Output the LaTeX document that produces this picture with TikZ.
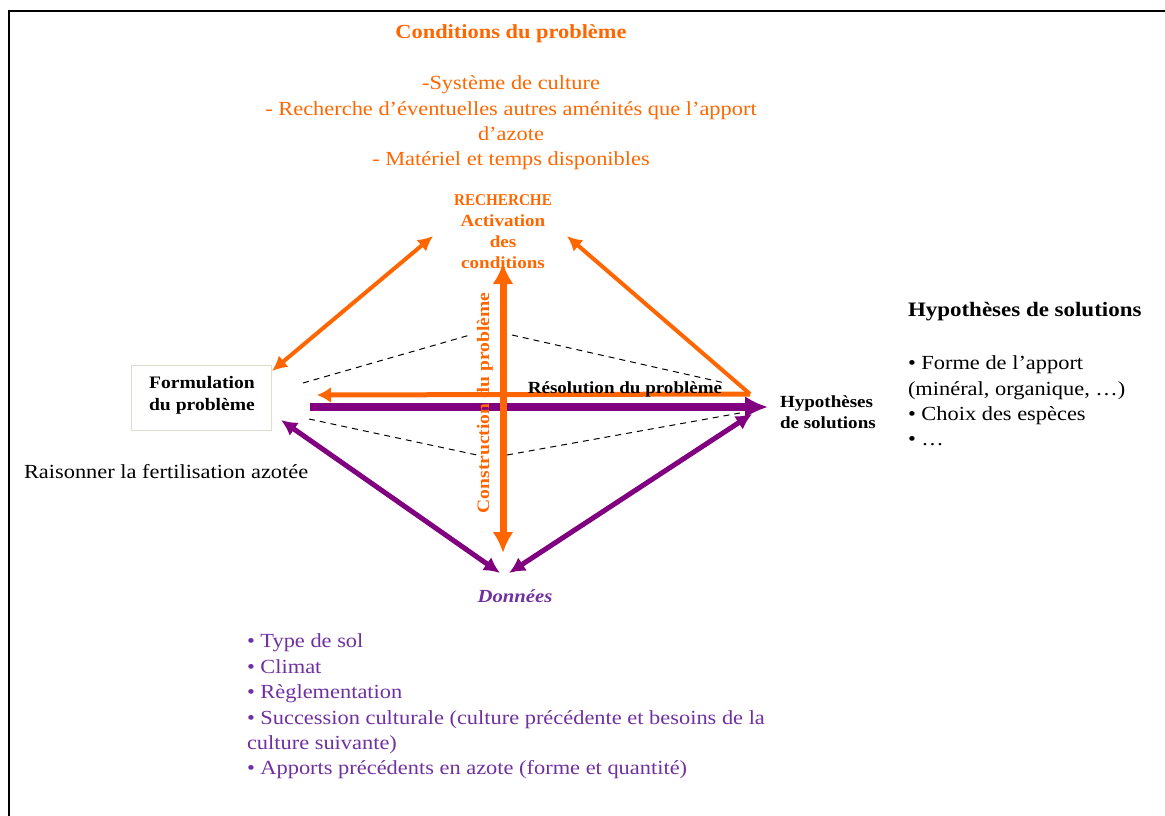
\documentclass[tikz,border=0pt]{standalone}
\usepackage{fontspec}
\setmainfont[FakeStretch=1.12]{Liberation Serif}
\newfontfamily\narrowserif[FakeStretch=0.92]{Liberation Serif}
\usetikzlibrary{arrows.meta}
\definecolor{orng}{RGB}{255,102,0}
\definecolor{purp}{RGB}{128,0,128}
\definecolor{purptxt}{RGB}{112,48,160}
\definecolor{boxline}{RGB}{225,220,205}
\tikzset{
  txt/.style={inner sep=0pt, outer sep=0pt},
  olink/.style={draw=orng, line width=4pt},
  plink/.style={draw=purp, line width=5pt},
  dashln/.style={draw=black, line width=1pt, dash pattern=on 6pt off 5pt},
}
\begin{document}
\begin{tikzpicture}[x=1pt,y=-1pt]
\useasboundingbox (0,0) rectangle (1165,816);
% frame
\draw[line width=2pt] (9,816) -- (9,11) -- (1165,11);

% texts
\node[txt, text=orng, font=\fontsize{20}{25}\selectfont\bfseries] (condtitle) at (511,34) {Conditions du problème};
\node[txt, text=orng, font=\fontsize{20}{25.3}\selectfont, align=center] (condlist) at (511,123)
  {-Système de culture\\- Recherche d’éventuelles autres aménités que l’apport\\d’azote\\- Matériel et temps disponibles};
\node[txt, text=orng, font=\fontsize{17}{21}\selectfont\bfseries, align=center] (rech) at (503,232)
  {{\narrowserif\bfseries\fontsize{16.5}{21}\selectfont RECHERCHE}\\Activation\\des\\conditions};

\node[draw=boxline, line width=1pt, minimum width=140pt, minimum height=65pt, inner sep=0pt] (formbox) at (201,397.5) {};
\node[txt, font=\fontsize{17.5}{22}\selectfont\bfseries, align=center] (form) at (202,395) {Formulation\\du problème};
\node[txt, anchor=west, font=\fontsize{20}{24}\selectfont] (rais) at (24,472) {Raisonner la fertilisation azotée};

\node[txt, anchor=west, font=\fontsize{17}{21}\selectfont\bfseries, align=left] (hyp) at (780,412.5) {Hypothèses\\de solutions};
\node[txt, anchor=west, font=\fontsize{20.5}{24}\selectfont\bfseries] (hyptitle) at (908,312) {Hypothèses de solutions};
\node[txt, anchor=west, font=\fontsize{20}{25.3}\selectfont, align=left] (hyplist) at (908,401)
  {• Forme de l’apport\\(minéral, organique, …)\\• Choix des espèces\\• …};

\node[txt, text=purptxt, font=\fontsize{18.5}{20}\selectfont\bfseries\itshape] (donnees) at (515,596) {Données};
\node[txt, anchor=west, text=purptxt, font=\fontsize{20}{25.4}\selectfont, align=left] (donlist) at (247,706.5)
  {• Type de sol\\• Climat\\• Règlementation\\• Succession culturale (culture précédente et besoins de la\\culture suivante)\\• Apports précédents en azote (forme et quantité)};

% anchor coordinates
\coordinate (rechL) at (433,236);
\coordinate (rechR) at (567,236);
\coordinate (rechB) at (503,263);
\coordinate (formTR) at (272,371);
\coordinate (formBR) at (281,420);
\coordinate (formO) at (317,395);
\coordinate (formP) at (310,407);
\coordinate (hypC) at (750,394);
\coordinate (hypP) at (768,407);
\coordinate (hypBL) at (752,414);
\coordinate (donT) at (503,553);
\coordinate (donL) at (500,573);
\coordinate (donR) at (509,573);

% dashed diamond
\draw[dashln] (303,383) -- (470,335);
\draw[dashln] (512,335) -- (725,383);
\draw[dashln] (309,419) -- (477,455);
\draw[dashln] (507,455) -- (740,413);

% orange links
\draw[olink, {Latex[length=15pt,width=15pt]}-{Latex[length=15pt,width=15pt]}] (formTR) -- (rechL);
\draw[olink, -{Latex[length=15pt,width=15pt]}] (hypC) -- (rechR);
\draw[draw=orng, line width=5pt, -{Latex[length=14pt,width=16pt]}] (hypC) -- (formO);
% purple horizontal
\draw[draw=purp, line width=8pt, -{Latex[length=23pt,width=22pt]}] (formP) -- (hypP);
% orange vertical
\draw[draw=orng, line width=7pt, {Latex[length=21pt,width=21pt]}-{Latex[length=21pt,width=21pt]}] (donT) -- (rechB);
% purple diagonals
\draw[plink, {Latex[length=16pt,width=16pt]}-{Latex[length=16pt,width=16pt]}] (formBR) -- (donL);
\draw[plink, {Latex[length=16pt,width=16pt]}-{Latex[length=16pt,width=16pt]}] (donR) -- (hypBL);

\node[txt, font=\fontsize{17}{20}\selectfont\bfseries] (resol) at (625,389) {Résolution du problème};
\node[txt, text=orng, rotate=90, font=\fontsize{17.5}{20}\selectfont\bfseries] (constr) at (485,403) {Construction du problème};
\end{tikzpicture}
\end{document}
